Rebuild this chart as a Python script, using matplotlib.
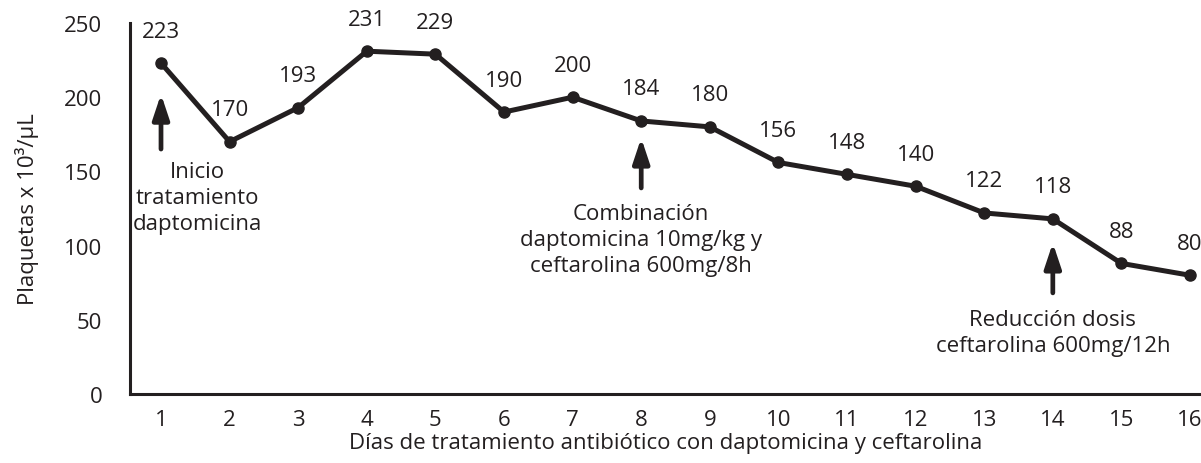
import matplotlib
matplotlib.use("Agg")
import matplotlib.pyplot as plt

days = list(range(1, 17))
platelets = [223, 170, 193, 231, 229, 190, 200, 184, 180, 156, 148, 140, 122, 118, 88, 80]
y_ticks = [0, 50, 100, 150, 200, 250]

events_day = [1, 8, 14]
events_text = ["Inicio\ntratamiento\ndaptomicina",
               "Combinación\ndaptomicina 10mg/kg y\nceftarolina 600mg/8h",
               "Reducción dosis\nceftarolina 600mg/12h"]

ink = "#231f20"
plt.rcParams['font.family'] = ['Open Sans', 'DejaVu Sans']
fs = 16

fig = plt.figure(figsize=(12.01, 4.64), dpi=100)
ax = fig.add_axes([130/1201, (464-395)/464, 1 - 130/1201, (395-24)/464])

ax.plot(days, platelets, color=ink, lw=3.6, marker='o', ms=8, solid_joinstyle='round',
        clip_on=False, zorder=3)

for d, v in zip(days, platelets):
    ax.annotate(str(v), (d, v), xytext=(0, 32), textcoords='offset pixels',
                ha='center', va='center', fontsize=fs, color=ink)

# (arrow head gap, arrow tail, text top, text dx) in pixels relative to the event point
specs = {1: (31, 86, 98, 36), 8: (17, 67, 82, 0), 14: (24, 74, 90, 0)}
for d, txt in zip(events_day, events_text):
    v = platelets[days.index(d)]
    head, tail, textc, dx = specs[d]
    ax.annotate("", xy=(d, v), xytext=(0, -tail), textcoords='offset pixels',
                arrowprops=dict(arrowstyle='-|>,head_width=0.5,head_length=1.5', color=ink, lw=3.4,
                                shrinkA=0, shrinkB=head * 0.72))
    ax.annotate(txt, (d, v), xytext=(dx, -textc), textcoords='offset pixels',
                ha='center', va='top', fontsize=fs, color=ink, linespacing=1.3)

ax.set_xlim(0.548, 16.16)
ax.set_ylim(0, 250)
ax.set_xticks(days)
ax.set_yticks(y_ticks)
ax.tick_params(length=0, labelsize=fs, labelcolor=ink)
ax.tick_params(axis='x', pad=11)
ax.tick_params(axis='y', pad=20)
for s in ['top', 'right']:
    ax.spines[s].set_visible(False)
for s in ['left', 'bottom']:
    ax.spines[s].set_linewidth(2.2)
    ax.spines[s].set_color(ink)

ax.set_xlabel("Días de tratamiento antibiótico con daptomicina y ceftarolina", fontsize=fs,
              color=ink, labelpad=1)
ax.set_ylabel("Plaquetas x 10³/µL", fontsize=fs, color=ink, labelpad=18)

fig.savefig("out.png", dpi=100)
